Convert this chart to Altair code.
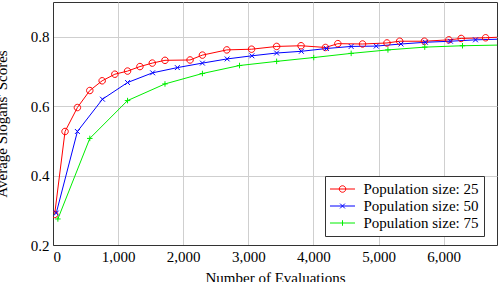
import altair as alt
import pandas as pd

# ---- data ----
series_names = ["Population size: 25", "Population size: 50", "Population size: 75"]

evals_25 = [25, 185, 375, 565, 755, 950, 1145, 1335, 1525, 1720, 2105, 2295, 2670,
            3050, 3435, 3810, 4185, 4375, 4755, 5130, 5325, 5705, 6080, 6270, 6645, 7020]
score_25 = [0.288, 0.527, 0.596, 0.645, 0.673, 0.692, 0.701, 0.714, 0.724, 0.732, 0.733, 0.747, 0.762,
            0.764, 0.772, 0.774, 0.769, 0.780, 0.779, 0.782, 0.787, 0.787, 0.791, 0.795, 0.797, 0.800]

evals_50 = [50, 375, 760, 1145, 1530, 1910, 2295, 2675, 3055, 3435, 3815, 4200, 4580,
            4965, 5345, 5720, 6105, 6490, 6875]
score_50 = [0.292, 0.527, 0.620, 0.668, 0.696, 0.711, 0.724, 0.736, 0.745, 0.753, 0.758, 0.766, 0.772,
            0.773, 0.779, 0.784, 0.787, 0.791, 0.793]

evals_75 = [75, 565, 1145, 1720, 2295, 2865, 3435, 4005, 4580, 5145, 5710, 6290, 6870]
score_75 = [0.275, 0.507, 0.616, 0.664, 0.694, 0.717, 0.729, 0.740, 0.752, 0.762, 0.770, 0.774, 0.776]

x_ticks = [0, 1000, 2000, 3000, 4000, 5000, 6000]
y_ticks = [0.2, 0.4, 0.6, 0.8]
colors = ["#ff0000", "#0000ff", "#00ee00"]

rows = []
for name, xs, ys in zip(series_names, [evals_25, evals_50, evals_75], [score_25, score_50, score_75]):
    for x, y in zip(xs, ys):
        rows.append({"series": name, "evals": x, "score": y})
df = pd.DataFrame(rows)

FONT = "Liberation Serif"

# marker shapes in the plot (unit square scaled by sqrt(size)/2)
mark_paths = [
    "M1,0A1,1,0,1,1,-1,0A1,1,0,1,1,1,0",
    "M-0.75,-0.75L0.75,0.75M-0.75,0.75L0.75,-0.75",
    "M-0.85,0L0.85,0M0,-0.85L0,0.85",
]
# legend images: line + marker (symbolSize 225 -> 7.5 px per unit)
legend_paths = [
    "M-1.667,0L1.667,0M0.433,0A0.433,0.433,0,1,1,-0.433,0A0.433,0.433,0,1,1,0.433,0",
    "M-1.667,0L1.667,0M-0.32,-0.32L0.32,0.32M-0.32,0.32L0.32,-0.32",
    "M-1.667,0L1.667,0M0,-0.37L0,0.37",
]

x_enc = alt.X("evals:Q", scale=alt.Scale(domain=[0, 6820], nice=False, zero=False),
              axis=alt.Axis(values=x_ticks, format=",d", title="Number of Evaluations",
                            titleY=37, titleBaseline="alphabetic"))
y_enc = alt.Y("score:Q", scale=alt.Scale(domain=[0.2, 0.9], nice=False, zero=False),
              axis=alt.Axis(values=y_ticks, format=".1f", title="Average Slogans' Scores",
                            titleX=-47, titleY=121.5, titleAngle=270, titleAlign="center",
                            titleBaseline="alphabetic"))
color_scale = alt.Scale(domain=series_names, range=colors)

legend_kwargs = dict(title=None, orient="none", legendX=272, legendY=174, padding=5,
                     rowPadding=1, symbolOffset=4.5, labelOffset=13,
                     symbolSize=225, symbolStrokeWidth=1, symbolOpacity=1,
                     labelFont=FONT, labelFontSize=15, labelColor="black",
                     strokeColor="#333333", fillColor="white", cornerRadius=0)

lines = alt.Chart(df).mark_line(strokeWidth=1, clip=True).encode(
    x=x_enc, y=y_enc,
    color=alt.Color("series:N", scale=color_scale, legend=None),
    order="evals:Q",
    detail="series:N",
)
pts = alt.Chart(df).mark_point(filled=False, size=42, strokeWidth=1, clip=True, opacity=1).encode(
    x=x_enc, y=y_enc,
    color=alt.Color("series:N", scale=color_scale, legend=None),
    shape=alt.Shape("series:N", scale=alt.Scale(domain=series_names, range=mark_paths),
                    legend=None),
)
# invisible layer that only carries the legend (line + marker images)
carrier = alt.Chart(df).mark_point(filled=False, strokeWidth=1, clip=True, opacity=0).encode(
    x=x_enc, y=y_enc,
    color=alt.Color("series:N", scale=color_scale, legend=alt.Legend(**legend_kwargs)),
    shape=alt.Shape("series:N", scale=alt.Scale(domain=series_names, range=legend_paths),
                    legend=alt.Legend(**legend_kwargs)),
)

chart = alt.layer(lines, pts, carrier).resolve_scale(
    shape="independent", color="independent"
).properties(
    width=444, height=243,
    background="white",
    autosize=alt.AutoSizeParams(type="none"),
    padding={"left": 53, "top": 2, "right": 1, "bottom": 37},
).configure_view(
    stroke="#333333", strokeWidth=1
).configure_axis(
    labelFont=FONT, labelFontSize=15, labelColor="black", labelPadding=4,
    titleFont=FONT, titleFontSize=15, titleColor="black", titleFontWeight="normal",
    gridColor="#cfcfcf", gridWidth=1, domainColor="#333333", tickSize=0,
).configure_legend(
    labelFont=FONT, labelFontSize=15, labelColor="black",
)

chart.save("out.html", embed_options={"renderer": "svg", "actions": False})
